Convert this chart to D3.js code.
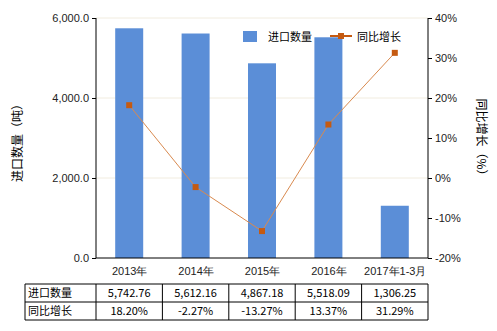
<!DOCTYPE html>
<html>
<head>
<meta charset="utf-8">
<script src="https://cdn.jsdelivr.net/npm/d3@7"></script>
<style>
  body { margin: 0; background: #fff; }
  svg { font-family: "Noto Sans CJK SC", "Microsoft YaHei", sans-serif; }
  .axis text { font-size: 11px; fill: #222; }
  .axis path, .axis line { stroke: #000; }
</style>
</head>
<body>
<svg id="chart" width="497" height="331"></svg>
<script>
// chart data
var categories = ["2013年", "2014年", "2015年", "2016年", "2017年1-3月"];
var importQty = [5742.76, 5612.16, 4867.18, 5518.09, 1306.25];
var growth = [18.20, -2.27, -13.27, 13.37, 31.29];
var qtyLabels = ["5,742.76", "5,612.16", "4,867.18", "5,518.09", "1,306.25"];
var growthLabels = ["18.20%", "-2.27%", "-13.27%", "13.37%", "31.29%"];
var leftTicks = [0, 2000, 4000, 6000];
var rightTicks = [-20, -10, 0, 10, 20, 30, 40];

var svg = d3.select("#chart"),
    margin = {top: 18, right: 69, bottom: 73, left: 96},
    width = +svg.attr("width") - margin.left - margin.right,
    height = +svg.attr("height") - margin.top - margin.bottom;

var barColor = "#5b8ed7",
    lineColor = "#d98a4f",
    markColor = "#c55a11";

var x = d3.scaleBand().domain(categories).range([0, width]).paddingInner(0.58).paddingOuter(0.29),
    xc = d3.scalePoint().domain(categories).range([0, width]).padding(0.5),
    y = d3.scaleLinear().domain([0, 6000]).range([height, 0]),
    y2 = d3.scaleLinear().domain([-20, 40]).range([height, 0]);

var g = svg.append("g")
    .attr("transform", "translate(" + margin.left + "," + margin.top + ")");

// grid
g.selectAll(".grid")
  .data(leftTicks.slice(1))
  .enter().append("line")
    .attr("x1", 0).attr("x2", width)
    .attr("y1", function(d) { return y(d); })
    .attr("y2", function(d) { return y(d); })
    .attr("stroke", "#f1ecdf");

// bars
g.selectAll(".bar")
  .data(categories)
  .enter().append("rect")
    .attr("x", function(d) { return xc(d) - 14; })
    .attr("width", 28)
    .attr("y", function(d, i) { return y(importQty[i]); })
    .attr("height", function(d, i) { return height - y(importQty[i]); })
    .attr("fill", barColor);

// axes
g.append("g")
    .attr("class", "axis")
    .call(d3.axisLeft(y).tickValues(leftTicks).tickSize(4).tickFormat(d3.format(",.1f")))
    .call(function(a) { a.select(".domain").attr("d", "M0,0V" + height); });

g.append("g")
    .attr("class", "axis")
    .attr("transform", "translate(" + width + ",0)")
    .call(d3.axisRight(y2).tickValues(rightTicks).tickSize(4).tickFormat(function(d) { return d + "%"; }))
    .call(function(a) { a.select(".domain").attr("d", "M0,0V" + height); });

g.append("g")
    .attr("class", "axis")
    .attr("transform", "translate(0," + height + ")")
    .call(d3.axisBottom(xc).tickSize(0).tickPadding(9))
    .call(function(a) { a.select(".domain").attr("d", "M0,0H" + width); });

// growth line
var line = d3.line()
    .x(function(d, i) { return xc(categories[i]); })
    .y(function(d) { return y2(d); });

g.append("path")
    .datum(growth)
    .attr("d", line)
    .attr("fill", "none")
    .attr("stroke", lineColor)
    .attr("stroke-width", 1);

g.selectAll(".pt")
  .data(growth)
  .enter().append("rect")
    .attr("x", function(d, i) { return xc(categories[i]) - 3; })
    .attr("y", function(d) { return y2(d) - 3; })
    .attr("width", 6).attr("height", 6)
    .attr("fill", markColor);

// axis titles
svg.append("text")
    .attr("transform", "translate(22,140) rotate(-90)")
    .attr("text-anchor", "middle")
    .style("font-size", "12px")
    .text("进口数量（吨）");

svg.append("text")
    .attr("transform", "translate(477,140) rotate(90)")
    .attr("text-anchor", "middle")
    .style("font-size", "12px")
    .text("同比增长（%）");

// legend
var lg = svg.append("g").style("font-size", "11px");
lg.append("rect").attr("x", 243).attr("y", 31).attr("width", 14).attr("height", 11).attr("fill", barColor);
lg.append("text").attr("x", 268).attr("y", 41).text("进口数量");
lg.append("line").attr("x1", 330).attr("x2", 352).attr("y1", 36).attr("y2", 36)
    .attr("stroke", markColor).attr("stroke-width", 2);
lg.append("rect").attr("x", 338).attr("y", 33).attr("width", 6).attr("height", 6).attr("fill", markColor);
lg.append("text").attr("x", 357).attr("y", 41).text("同比增长");

// data table
var tableTop = 284, rowH = 18, tableLeft = 25;
var rows = [["进口数量", qtyLabels], ["同比增长", growthLabels]];
var tg = svg.append("g").style("font-size", "11px");

rows.forEach(function(r, ri) {
  var ty = tableTop + ri * rowH;
  tg.append("text").attr("x", tableLeft + 3).attr("y", ty + 13).text(r[0]);
  r[1].forEach(function(v, i) {
    tg.append("text")
      .attr("x", margin.left + xc(categories[i]))
      .attr("y", ty + 13)
      .attr("text-anchor", "middle")
      .text(v);
  });
});

var hx = [tableLeft, margin.left].concat(categories.map(function(c) { return margin.left + xc(c) + xc.step() / 2; }));
hx.forEach(function(xx) {
  tg.append("line").attr("x1", xx).attr("x2", xx)
    .attr("y1", tableTop).attr("y2", tableTop + 2 * rowH).attr("stroke", "#000");
});
[0, 1, 2].forEach(function(k) {
  tg.append("line").attr("x1", tableLeft).attr("x2", margin.left + width)
    .attr("y1", tableTop + k * rowH).attr("y2", tableTop + k * rowH).attr("stroke", "#000");
});
</script>
</body>
</html>
